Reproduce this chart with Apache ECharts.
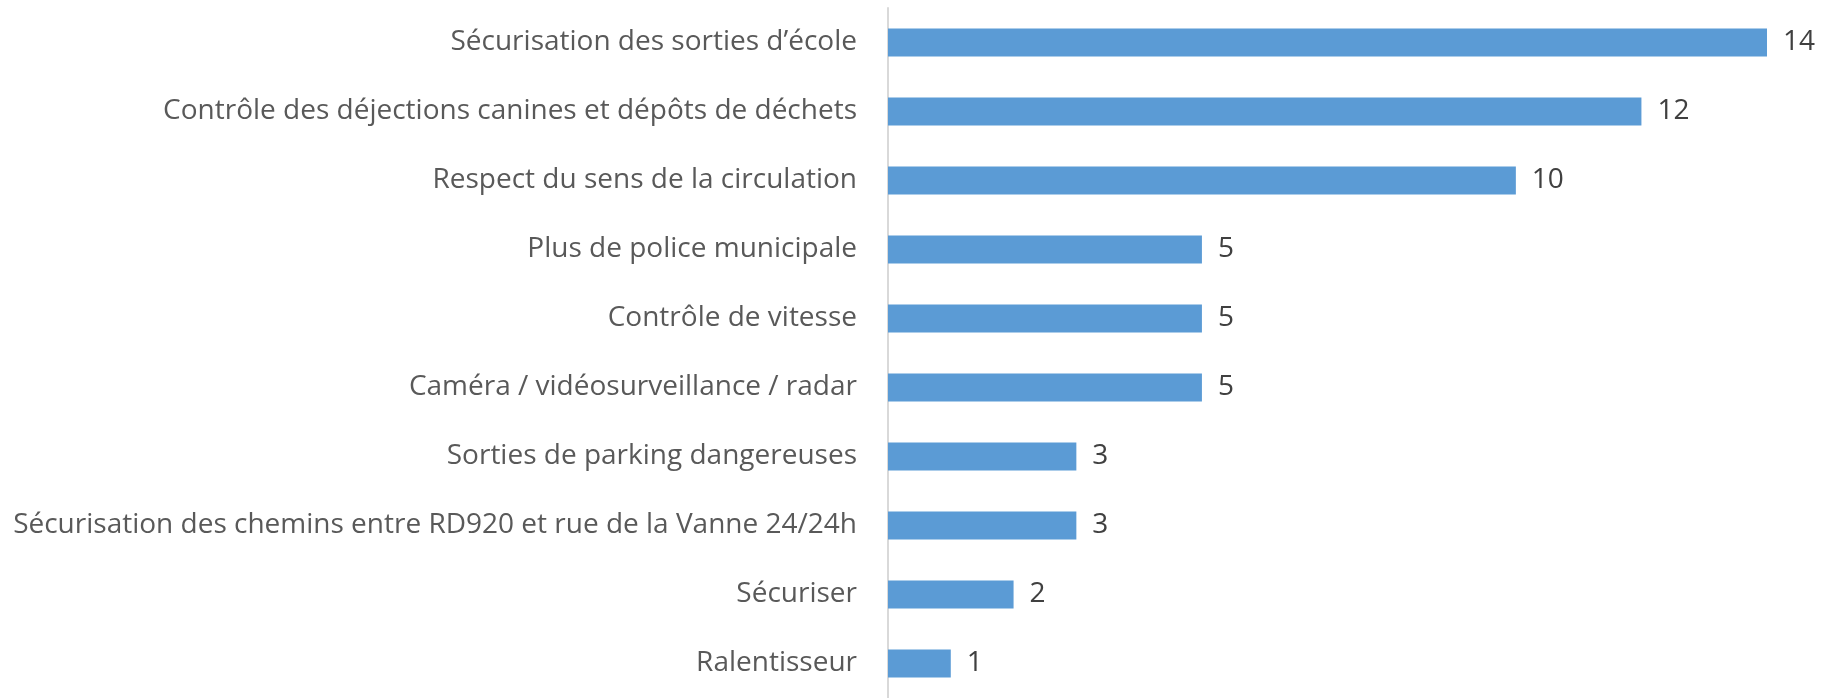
<!DOCTYPE html>
<html>
<head>
<meta charset="utf-8">
<script src="https://cdn.jsdelivr.net/npm/echarts@6/dist/echarts.min.js"></script>
<style>
  html, body { margin: 0; padding: 0; background: #fff; }
  #main { width: 1826px; height: 698px; }
</style>
</head>
<body>
<div id="main"></div>
<script>
// catégories, de haut en bas
var categories = [
  'Sécurisation des sorties d\u2019école',
  'Contrôle des déjections canines et dépôts de déchets',
  'Respect du sens de la circulation',
  'Plus de police municipale',
  'Contrôle de vitesse',
  'Caméra / vidéosurveillance / radar',
  'Sorties de parking dangereuses',
  'Sécurisation des chemins entre RD920 et rue de la Vanne 24/24h',
  'Sécuriser',
  'Ralentisseur'
];
var values = [14, 12, 10, 5, 5, 5, 3, 3, 2, 1];

var chart = echarts.init(document.getElementById('main'));

chart.setOption({
  animation: false,
  grid: {
    left: 888,
    right: 59,
    top: 8,
    height: 696
  },
  xAxis: {
    type: 'value',
    min: 0,
    max: 14,
    show: false
  },
  yAxis: {
    type: 'category',
    inverse: true,
    data: categories,
    axisLine: { lineStyle: { color: '#d9d9d9', width: 2 } },
    axisTick: { show: false },
    axisLabel: {
      margin: 31,
      color: '#595959',
      fontFamily: 'Open Sans',
      fontSize: 28
    }
  },
  series: [{
    type: 'bar',
    data: values,
    barWidth: 28,
    itemStyle: { color: '#5b9bd5' },
    label: {
      show: true,
      position: 'right',
      distance: 16,
      color: '#404040',
      fontFamily: 'Open Sans',
      fontSize: 28
    }
  }]
});
</script>
</body>
</html>
